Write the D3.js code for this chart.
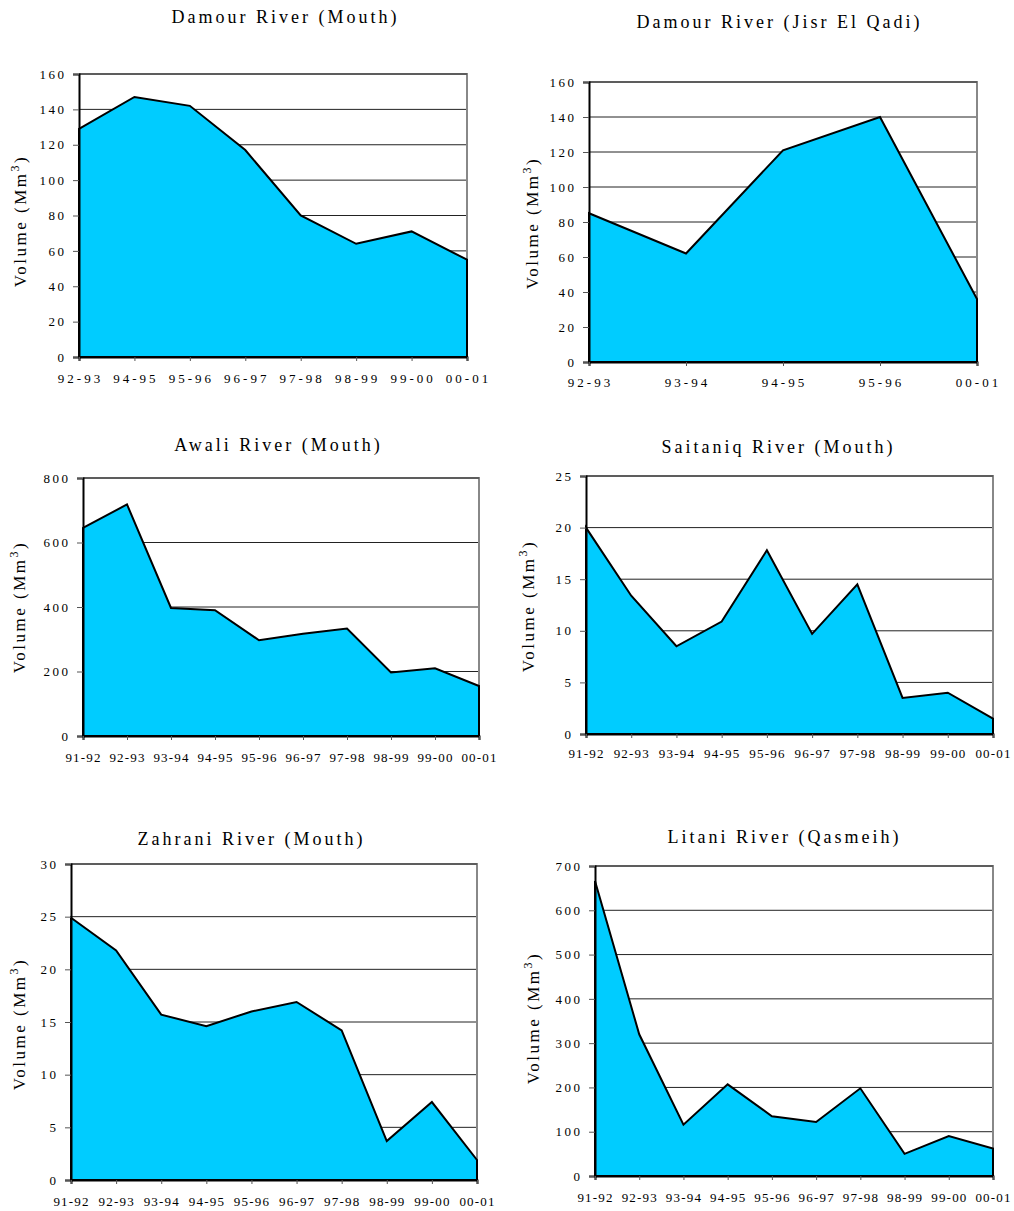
<!DOCTYPE html>
<html>
<head>
<meta charset="utf-8">
<script src="https://cdn.jsdelivr.net/npm/d3@7"></script>
<style>
  html, body { margin: 0; padding: 0; background: #fff; }
  svg { display: block; }
  text { font-family: "Liberation Serif", "Times New Roman", serif; fill: #000; }
</style>
</head>
<body>
<svg id="chart" width="1014" height="1211"></svg>
<script>
// Annual river discharge volumes (Mm³) for six gauging stations

const seasonsDamourMouth = ["92-93", "94-95", "95-96", "96-97", "97-98", "98-99", "99-00", "00-01"];
const volumesDamourMouth = [129, 147, 142, 117, 80, 64, 71, 55];

const seasonsDamourJisr = ["92-93", "93-94", "94-95", "95-96", "00-01"];
const volumesDamourJisr = [85, 62, 121, 140, 36];

const seasonsDecade = ["91-92", "92-93", "93-94", "94-95", "95-96", "96-97", "97-98", "98-99", "99-00", "00-01"];

const volumesAwali = [645, 718, 397, 390, 297, 317, 333, 197, 210, 155];
const volumesSaitaniq = [20, 13.4, 8.5, 10.9, 17.8, 9.7, 14.5, 3.5, 4.0, 1.5];
const volumesZahrani = [24.9, 21.8, 15.7, 14.6, 16.0, 16.9, 14.2, 3.7, 7.4, 1.9];
const volumesLitani = [666, 320, 116, 207, 135, 122, 198, 50, 90, 62];

const yTicksDamour = [0, 20, 40, 60, 80, 100, 120, 140, 160];
const yTicksAwali = [0, 200, 400, 600, 800];
const yTicksSaitaniq = [0, 5, 10, 15, 20, 25];
const yTicksZahrani = [0, 5, 10, 15, 20, 25, 30];
const yTicksLitani = [0, 100, 200, 300, 400, 500, 600, 700];

const titles = [
  "Damour River (Mouth)",
  "Damour River (Jisr El Qadi)",
  "Awali River (Mouth)",
  "Saitaniq River (Mouth)",
  "Zahrani River (Mouth)",
  "Litani River (Qasmeih)"
];

// Panel frames on the page (xls = letter spacing of the season labels)
const frames = [
  { l: 79,  r: 467, t: 74,  b: 357,  titleX: 284, titleY: 23,  labX: 20,  labY: 221,  xLabY: 383,  xls: 3 },
  { l: 589, r: 977, t: 82,  b: 362,  titleX: 778, titleY: 28,  labX: 532, labY: 223,  xLabY: 387,  xls: 3 },
  { l: 83,  r: 479, t: 478, b: 736,  titleX: 277, titleY: 451, labX: 19,  labY: 607,  xLabY: 762,  xls: 1.2 },
  { l: 586, r: 993, t: 476, b: 734,  titleX: 777, titleY: 453, labX: 528, labY: 606,  xLabY: 758,  xls: 1.2 },
  { l: 71,  r: 477, t: 864, b: 1180, titleX: 250, titleY: 845, labX: 19,  labY: 1024, xLabY: 1206, xls: 1.2 },
  { l: 595, r: 993, t: 866, b: 1176, titleX: 783, titleY: 843, labX: 533, labY: 1018, xLabY: 1202, xls: 1.2 }
];

const panels = [
  { cats: seasonsDamourMouth, vals: volumesDamourMouth, ticks: yTicksDamour },
  { cats: seasonsDamourJisr,  vals: volumesDamourJisr,  ticks: yTicksDamour },
  { cats: seasonsDecade,      vals: volumesAwali,       ticks: yTicksAwali },
  { cats: seasonsDecade,      vals: volumesSaitaniq,    ticks: yTicksSaitaniq },
  { cats: seasonsDecade,      vals: volumesZahrani,     ticks: yTicksZahrani },
  { cats: seasonsDecade,      vals: volumesLitani,      ticks: yTicksLitani }
];

const svg = d3.select("#chart");

panels.forEach((p, i) => {
  const f = frames[i];
  const g = svg.append("g");

  const x = d3.scalePoint().domain(p.cats).range([f.l, f.r]);
  const y = d3.scaleLinear().domain([0, d3.max(p.ticks)]).range([f.b, f.t]);

  // horizontal gridlines
  g.append("g")
    .selectAll("line")
    .data(p.ticks.slice(1, -1))
    .join("line")
    .attr("x1", f.l).attr("x2", f.r)
    .attr("y1", d => y(d)).attr("y2", d => y(d))
    .attr("stroke", "#222").attr("stroke-width", 1);

  // plot frame: grey top and right edges
  g.append("path")
    .attr("d", `M${f.l},${f.t}H${f.r}V${f.b}`)
    .attr("fill", "none").attr("stroke", "#888").attr("stroke-width", 2);
  g.append("line")
    .attr("x1", f.l).attr("x2", f.r).attr("y1", f.t).attr("y2", f.t)
    .attr("stroke", "#333").attr("stroke-width", 1);

  // filled area
  const data = p.cats.map((c, k) => ({ c, v: p.vals[k] }));
  const area = d3.area().x(d => x(d.c)).y0(y(0)).y1(d => y(d.v));
  g.append("path")
    .datum(data)
    .attr("d", area)
    .attr("fill", "#00CCFF")
    .attr("stroke", "#000")
    .attr("stroke-width", 2)
    .attr("stroke-linejoin", "miter");

  // y axis
  const yAxis = g.append("g")
    .attr("transform", `translate(${f.l},0)`)
    .call(d3.axisLeft(y).tickValues(p.ticks).tickSize(6).tickPadding(6.5).tickFormat(d3.format("d")));
  yAxis.select(".domain").attr("stroke", "#000").attr("stroke-width", 2);
  yAxis.selectAll(".tick line").attr("stroke", "#555");
  yAxis.selectAll("text")
    .attr("font-size", 13)
    .attr("letter-spacing", "2.5px")
    .attr("fill", "#000");

  // x axis
  const xAxis = g.append("g")
    .attr("transform", `translate(0,${f.b})`)
    .call(d3.axisBottom(x).tickSize(4).tickFormat(""));
  xAxis.select(".domain").attr("stroke", "#000").attr("stroke-width", 2);
  xAxis.selectAll(".tick line").attr("stroke", "#555");
  g.append("g")
    .selectAll("text")
    .data(p.cats)
    .join("text")
    .attr("x", d => x(d) + f.xls / 2)
    .attr("y", f.xLabY)
    .attr("text-anchor", "middle")
    .attr("font-size", 13)
    .attr("letter-spacing", `${f.xls}px`)
    .text(d => d);

  // title
  g.append("text")
    .attr("x", f.titleX + 1.5)
    .attr("y", f.titleY)
    .attr("text-anchor", "middle")
    .attr("font-size", 18)
    .attr("letter-spacing", "3px")
    .text(titles[i]);

  // y axis label
  const lab = g.append("text")
    .attr("transform", `translate(${f.labX + 6},${f.labY}) rotate(-90)`)
    .attr("text-anchor", "middle")
    .attr("font-size", 17)
    .attr("letter-spacing", "2.5px");
  lab.append("tspan").text("Volume (Mm");
  lab.append("tspan").attr("dy", -7).attr("font-size", 12).text("3");
  lab.append("tspan").attr("dy", 7).text(")");
});
</script>
</body>
</html>
